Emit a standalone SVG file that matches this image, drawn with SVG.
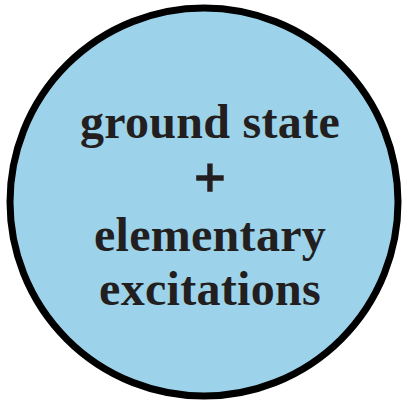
<svg xmlns="http://www.w3.org/2000/svg" width="402" height="404" viewBox="0 0 402 404">
<style>
.t{font-family:"Liberation Serif","Times New Roman",serif;font-weight:bold;font-size:48px;fill:#231f20;text-anchor:middle;letter-spacing:0.3px}
</style>
<rect width="402" height="404" fill="#fff"/>
<g id="node1">
<circle cx="204" cy="202" r="194" fill="#9dd3ea" stroke="#000" stroke-width="7"/>
<text class="t" x="210" y="138">ground state</text>
<text class="t" x="210" y="197" style="font-size:56px;stroke:#231f20;stroke-width:1.5px">+</text>
<text class="t" x="210" y="251">elementary</text>
<text class="t" x="210" y="305">excitations</text>
</g>
</svg>
